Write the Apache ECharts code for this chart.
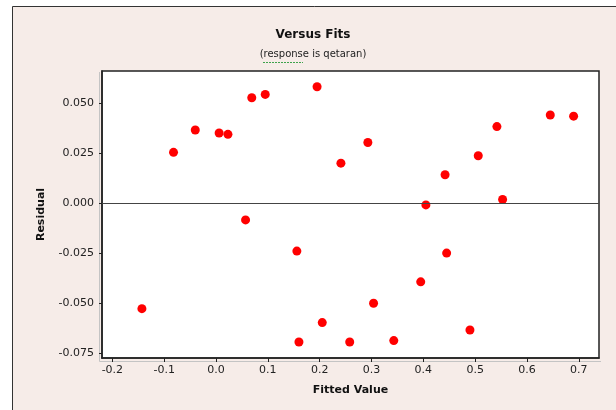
<!DOCTYPE html>
<html>
<head>
<meta charset="utf-8">
<script src="https://cdn.jsdelivr.net/npm/echarts@6/dist/echarts.min.js"></script>
<style>
  html, body { margin: 0; padding: 0; background: #fff; }
  #chart { width: 616px; height: 410px; }
</style>
</head>
<body>
<div id="chart"></div>
<script>
// fitted values and residuals
const fitted = [-0.143, -0.082, -0.040, 0.006, 0.023, 0.057, 0.069, 0.095, 0.156, 0.160,
  0.195, 0.205, 0.241, 0.258, 0.293, 0.304, 0.343, 0.395, 0.405, 0.442,
  0.445, 0.490, 0.506, 0.542, 0.553, 0.645, 0.690]
const residual = [-0.0526, 0.0256, 0.0368, 0.0353, 0.0346, -0.0082, 0.0529, 0.0546, -0.0238, -0.0693,
  0.0584, -0.0596, 0.0202, -0.0693, 0.0305, -0.0499, -0.0686, -0.0392, -0.0007, 0.0144,
  -0.0248, -0.0633, 0.0239, 0.0385, 0.0020, 0.0443, 0.0437]
const xTicks = [-0.2, -0.1, 0.0, 0.1, 0.2, 0.3, 0.4, 0.5, 0.6, 0.7]
const yTicks = [-0.075, -0.05, -0.025, 0.0, 0.025, 0.05]

const font = 'DejaVu Sans'
const labelStyle = { color: '#222', fontFamily: font, fontSize: 11 }

const myChart = echarts.init(document.getElementById('chart'))
const option = {
  backgroundColor: '#fff',
  animation: false,
  title: {
    text: 'Versus Fits',
    subtext: '(response is qetaran)',
    left: 313,
    textAlign: 'center',
    top: 29,
    itemGap: 8,
    padding: 0,
    textStyle: { color: '#111', fontFamily: font, fontSize: 12, fontWeight: 'bold' },
    subtextStyle: { color: '#222', fontFamily: font, fontSize: 10 }
  },
  graphic: [
    // outer panel
    {
      type: 'rect', z: -10, silent: true,
      shape: { x: 12.5, y: 6.5, width: 700, height: 500 },
      style: { fill: '#f6ece8', stroke: '#333', lineWidth: 1 }
    },
    // shadow of the plot frame
    {
      type: 'polyline', z: -5, silent: true,
      shape: { points: [[99.5, 72], [99.5, 361.5], [601, 361.5]] },
      style: { stroke: '#c4c4c4', lineWidth: 1, fill: null }
    },
    // spell check underline
    {
      type: 'line', silent: true,
      shape: { x1: 263, y1: 62.5, x2: 303, y2: 62.5 },
      style: { stroke: '#3fa34d', lineWidth: 1, lineDash: [2, 1] }
    }
  ],
  grid: {
    left: 102,
    right: 17,
    top: 71,
    bottom: 52,
    show: true,
    backgroundColor: '#fff',
    borderColor: '#222',
    borderWidth: 1.5
  },
  xAxis: {
    type: 'value',
    min: -0.22,
    max: 0.739,
    name: 'Fitted Value',
    nameLocation: 'middle',
    nameGap: 27,
    nameTextStyle: { color: '#111', fontFamily: font, fontSize: 11, fontWeight: 'bold' },
    axisLine: { show: true, onZero: false, lineStyle: { color: '#222', width: 1.5 } },
    axisTick: { show: true, length: 4, customValues: xTicks, lineStyle: { color: '#222' } },
    axisLabel: {
      ...labelStyle,
      margin: 7,
      customValues: xTicks,
      formatter: v => v.toFixed(1)
    },
    splitLine: { show: false }
  },
  yAxis: {
    type: 'value',
    min: -0.0773,
    max: 0.0663,
    name: 'Residual',
    nameLocation: 'middle',
    nameGap: 55,
    nameTextStyle: { color: '#111', fontFamily: font, fontSize: 11, fontWeight: 'bold' },
    axisLine: { show: true, onZero: false, lineStyle: { color: '#222', width: 1.5 } },
    axisTick: { show: true, length: 3, customValues: yTicks, lineStyle: { color: '#222' } },
    axisLabel: {
      ...labelStyle,
      margin: 8,
      customValues: yTicks,
      formatter: v => v.toFixed(3)
    },
    splitLine: { show: false }
  },
  series: [
    {
      type: 'scatter',
      symbol: 'circle',
      symbolSize: 9,
      itemStyle: { color: '#ff0000', opacity: 1 },
      data: fitted.map((x, i) => [x, residual[i]]),
      markLine: {
        silent: true,
        symbol: 'none',
        label: { show: false },
        lineStyle: { color: '#444', type: 'solid', width: 1 },
        data: [{ yAxis: 0 }]
      }
    }
  ]
}
myChart.setOption(option)
</script>
</body>
</html>
